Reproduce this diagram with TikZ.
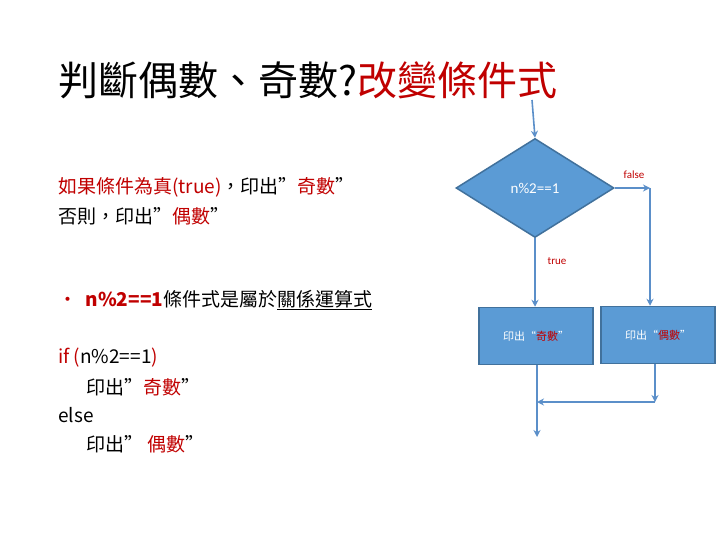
\documentclass[tikz,border=0pt]{standalone}
\usepackage{fontspec}
\setmainfont{Carlito}
\newfontfamily\cjk{Noto Sans CJK TC}
\usetikzlibrary{shapes.geometric,arrows.meta}
\definecolor{fillb}{HTML}{5B9BD5}
\definecolor{edgeb}{HTML}{41719C}
\definecolor{lineb}{HTML}{5B8FC9}
\definecolor{redt}{HTML}{C00000}
\tikzset{
 flow/.style={draw=lineb,line width=1.6pt,-{Stealth[length=7pt,width=7pt]}},
 fbox/.style={draw=edgeb,fill=fillb,line width=1.5pt,minimum width=114pt,minimum height=57pt,text=white,font=\cjk\fontsize{11}{13}\selectfont},
 lbl/.style={text=redt,font=\fontsize{11}{13}\selectfont},
 txt/.style={anchor=west,font=\cjk\fontsize{19}{24}\selectfont,inner sep=0pt}
}
\begin{document}
\begin{tikzpicture}[x=1pt,y=-1pt]
\useasboundingbox (0,0) rectangle (720,540);
\node[anchor=west,inner sep=0pt,font=\cjk\fontsize{40}{46}\selectfont] (title) at (58,80) {判斷偶數、奇數?\textcolor{redt}{改變條件式}};
\node[txt] (t1) at (58,187) {\textcolor{redt}{如果條件為真(true)}，印出”\textcolor{redt}{奇數}”};
\node[txt] (t2) at (58,216) {否則，印出”\textcolor{redt}{偶數}”};
\node[txt] (t3) at (58,300) {\textcolor{redt}{•\ \ \textbf{n\%2==1}}條件式是屬於\underline{關係運算式}};
\node[txt] (t4) at (58,358) {\textcolor{redt}{if (}n\%2==1\textcolor{redt}{)}};
\node[txt] (t5) at (86,387) {印出”\textcolor{redt}{奇數}”};
\node[txt] (t6) at (58,415) {else};
\node[txt] (t7) at (86,444) {印出” \textcolor{redt}{偶數}”};
% flowchart
\coordinate (start) at (532,100);
\node[diamond,draw=edgeb,fill=fillb,line width=1.5pt,minimum width=158pt,minimum height=99pt,aspect=1.6,inner sep=0pt,text=white,font=\fontsize{15}{18}\selectfont] (d) at (535,188) {n\%2==1};
\node[fbox] (b1) at (536,336) {印出“\textcolor{redt}{奇數}”};
\node[fbox] (b2) at (658,335) {印出“\textcolor{redt}{偶數}”};
\coordinate (fc) at (650,188);
\coordinate (j2) at (655,402);
\coordinate (j1) at (537,402);
\coordinate (end) at (537,437);
\draw[flow] (start) -- (d.north);
\draw[flow] (d.east) -- (fc);
\draw[flow] (fc) -- (fc |- b2.north);
\draw[flow] (d.south) -- (d.south |- b1.north);
\draw[flow] (b2.south -| j2) -- (j2);
\draw[flow] (j2) -- (j1);
\draw[draw=lineb,line width=1.6pt] (b1.south -| j1) -- (j1);
\draw[flow] (j1) -- (end);
\node[lbl] (lf) at (634,175) {false};
\node[lbl] (lt) at (557,261) {true};
\end{tikzpicture}
\end{document}
